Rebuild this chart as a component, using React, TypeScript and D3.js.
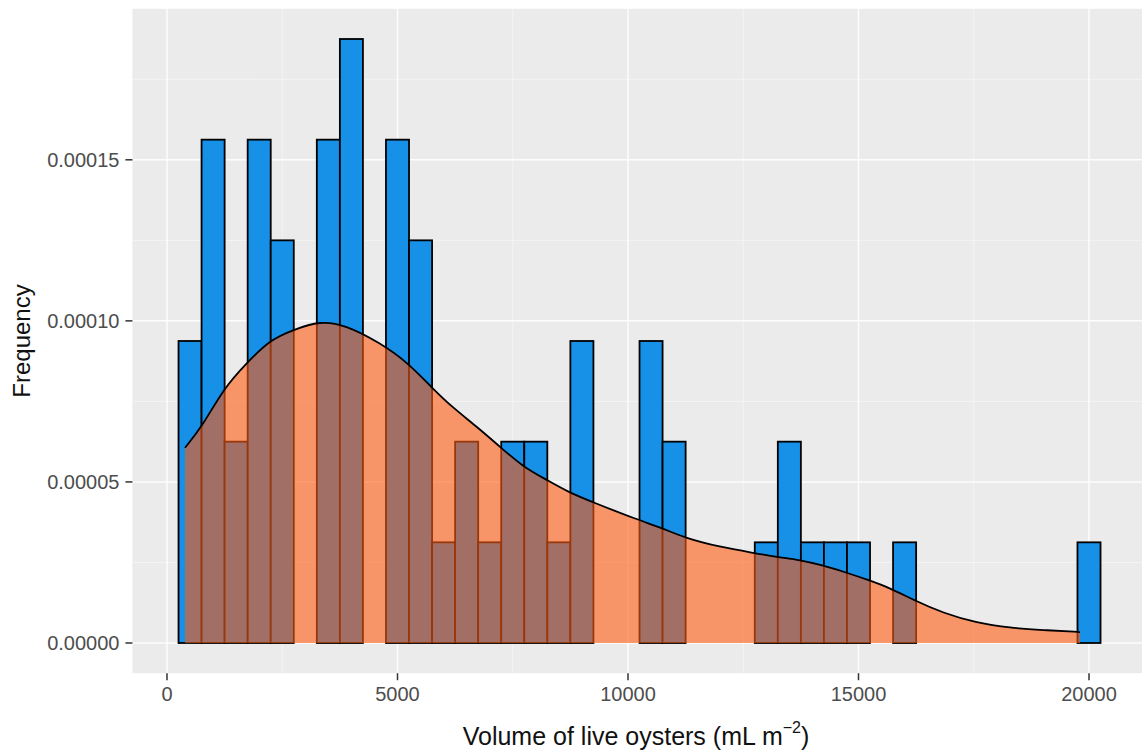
import React from "react";
import * as d3 from "d3";

// Histogram: bin width 500, first bin starts at 250
const binStart = 250;
const binWidth = 500;
const binCounts = [3, 5, 2, 5, 4, 0, 5, 6, 0, 5, 4, 1, 2, 1, 2, 2, 1, 3, 0, 0, 3, 2, 0, 0, 0, 1, 2, 1, 1, 1, 0, 1, 0, 0, 0, 0, 0, 0, 0, 1];
const nObs = 64;

// Density curve
const densX = [390, 759, 1236, 1735, 2234, 2733, 3319, 3861, 4620, 5228, 5748, 6204, 6725, 7223, 7722, 8243, 8698, 9219, 10217, 10738, 11236, 11995, 12711, 13232, 13731, 14208, 14707, 15206, 15683, 16182, 16833, 17570, 18286, 19002, 19805];
const densY = [6.06e-5, 6.71e-5, 7.92e-5, 8.7e-5, 9.41e-5, 9.72e-5, 1.0e-4, 9.88e-5, 9.32e-5, 8.7e-5, 7.92e-5, 7.3e-5, 6.71e-5, 6.09e-5, 5.47e-5, 5.06e-5, 4.69e-5, 4.38e-5, 3.82e-5, 3.57e-5, 3.26e-5, 2.98e-5, 2.8e-5, 2.67e-5, 2.58e-5, 2.42e-5, 2.2e-5, 1.96e-5, 1.71e-5, 1.34e-5, 9.3e-6, 6.2e-6, 4.7e-6, 4.0e-6, 3.4e-6];

const xTicks = [0, 5000, 10000, 15000, 20000];
const xMinor = [2500, 7500, 12500, 17500];
const yTicks = [0, 0.00005, 0.0001, 0.00015];
const yMinor = [0.000025, 0.000075, 0.000125, 0.000175];

const xTitle = "Volume of live oysters (mL m";
const yTitle = "Frequency";

export default function App() {
  const W = 1142, H = 752;
  const k = 0.0461;
  const x = d3.scaleLinear().domain([-750, 21250]).range([167 - 750 * k, 167 + 21250 * k]);
  const yMax = 0.0001875;
  const pad = yMax * 0.05;
  const y = d3.scaleLinear().domain([-pad, yMax + pad]).range([673.2, 8.8]);
  const [px0, px1] = x.range();
  const [py0, py1] = y.range();

  const bars = binCounts.map((c, i) => ({
    x0: binStart + i * binWidth,
    x1: binStart + (i + 1) * binWidth,
    d: c / (nObs * binWidth),
  })).filter(b => b.d > 0);

  const pts = densX.map((v, i) => [v, densY[i]] as [number, number]);
  const area = d3.area<[number, number]>()
    .x(d => x(d[0])).y0(y(0)).y1(d => y(d[1])).curve(d3.curveBasis);
  const line = d3.line<[number, number]>()
    .x(d => x(d[0])).y(d => y(d[1])).curve(d3.curveBasis);

  const font = "'Liberation Sans', Arial, sans-serif";
  const fmt = d3.format(".5f");

  return (
    <svg width={W} height={H} style={{ position: "absolute", left: 0, top: 0, background: "#fff" }}>
      <defs>
        <clipPath id="panel">
          <rect x={px0} y={py1} width={px1 - px0} height={py0 - py1} />
        </clipPath>
      </defs>
      <rect x={px0} y={py1} width={px1 - px0} height={py0 - py1} fill="#EBEBEB" />
      <g clipPath="url(#panel)">
        {xMinor.map(t => (
          <line key={"xm" + t} x1={x(t)} x2={x(t)} y1={py1} y2={py0} stroke="#fff" strokeWidth={0.8} opacity={0.6} />
        ))}
        {yMinor.map(t => (
          <line key={"ym" + t} x1={px0} x2={px1} y1={y(t)} y2={y(t)} stroke="#fff" strokeWidth={0.8} opacity={0.6} />
        ))}
        {xTicks.map(t => (
          <line key={"xg" + t} x1={x(t)} x2={x(t)} y1={py1} y2={py0} stroke="#fff" strokeWidth={1.5} opacity={0.9} />
        ))}
        {yTicks.map(t => (
          <line key={"yg" + t} x1={px0} x2={px1} y1={y(t)} y2={y(t)} stroke="#fff" strokeWidth={1.5} opacity={0.9} />
        ))}
        {bars.map((b, i) => (
          <rect key={i} x={x(b.x0)} y={y(b.d)} width={x(b.x1) - x(b.x0)} height={y(0) - y(b.d)}
            fill="#1790E8" stroke="#000" strokeWidth={1.8} />
        ))}
        <path d={area(pts) || ""} fill="#FF5A10" fillOpacity={0.6} stroke="none" />
        <path d={line(pts) || ""} fill="none" stroke="#000" strokeWidth={1.8} />
      </g>
      {/* x axis */}
      {xTicks.map(t => (
        <g key={"xt" + t}>
          <line x1={x(t)} x2={x(t)} y1={py0} y2={py0 + 7} stroke="#333" strokeWidth={1.5} />
          <text x={x(t)} y={701} textAnchor="middle" fontFamily={font} fontSize={20} fill="#4D4D4D">{t}</text>
        </g>
      ))}
      {/* y axis */}
      {yTicks.map(t => (
        <g key={"yt" + t}>
          <line x1={px0 - 7} x2={px0} y1={y(t)} y2={y(t)} stroke="#333" strokeWidth={1.5} />
          <text x={px0 - 13} y={y(t)} dy="0.35em" textAnchor="end" fontFamily={font} fontSize={20} fill="#4D4D4D">{fmt(t)}</text>
        </g>
      ))}
      <text x={(167 + 1089) / 2 + 8} y={745} textAnchor="middle" fontFamily={font} fontSize={25} fill="#111">
        {xTitle}
        <tspan fontSize={16} dy={-12}>−2</tspan>
        <tspan dy={12}>)</tspan>
      </text>
      <text transform={`translate(30, ${(py0 + py1) / 2}) rotate(-90)`} textAnchor="middle" fontFamily={font} fontSize={24} fill="#111">
        {yTitle}
      </text>
    </svg>
  );
}
